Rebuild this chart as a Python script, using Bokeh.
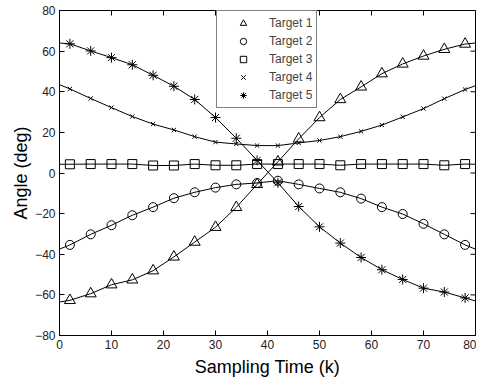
import math
from bokeh.plotting import figure
from bokeh.models import Range1d, Legend, LegendItem, FixedTicker
from bokeh.embed import file_html
from bokeh.resources import INLINE

# sampling instants: line endpoints 0 and 80, markers every 4 from 2 to 78
k = [0, 2, 6, 10, 14, 18, 22, 26, 30, 34, 38, 42, 46, 50, 54, 58, 62, 66, 70, 74, 78, 80]

target1 = [-63.5, -62.7, -59.4, -55.0, -52.6, -48.1, -41.3, -34.0, -26.7, -16.9, -5.6,
           5.5, 16.8, 27.3, 36.2, 42.4, 48.9, 53.7, 57.6, 60.9, 63.5, 64.0]
target2 = [-37.5, -35.4, -30.2, -25.7, -20.8, -16.8, -12.4, -9.5, -7.2, -5.6, -4.9,
           -3.8, -5.6, -7.6, -9.5, -12.6, -16.8, -20.2, -25.0, -30.2, -35.4, -37.5]
target3 = [4.3, 4.3, 4.4, 4.4, 4.4, 3.7, 3.7, 4.4, 3.8, 3.8, 4.4,
           4.4, 4.4, 4.4, 3.8, 4.4, 4.4, 4.4, 4.4, 3.8, 4.4, 4.3]
target4 = [43.5, 41.4, 36.7, 32.2, 27.8, 24.1, 21.2, 17.9, 15.2, 14.3, 13.5,
           13.5, 14.8, 16.0, 17.9, 20.5, 23.6, 27.6, 31.7, 36.6, 41.1, 43.0]
target5 = [64.0, 63.6, 60.1, 56.8, 53.3, 48.1, 42.7, 36.2, 27.3, 17.1, 6.2,
           -4.8, -16.5, -26.5, -34.5, -41.6, -47.6, -52.4, -56.7, -58.6, -61.5, -63.0]

labels = ["Target 1", "Target 2", "Target 3", "Target 4", "Target 5"]
markers = ["triangle", "circle", "square", "x", "asterisk"]
sizes = [11, 9, 9, 6, 10]
widths = [1, 1, 1, 1, 1.0]

x_ticks = [0, 10, 20, 30, 40, 50, 60, 70, 80]
y_ticks = [-80, -60, -40, -20, 0, 20, 40, 60, 80]
x_min, x_max = 0, 80
y_min, y_max = -80, 80

FONT = "Liberation Sans"

p = figure(width=476, height=379, output_backend="svg", toolbar_location=None,
           x_range=Range1d(x_min, x_max), y_range=Range1d(y_min, y_max),
           min_border_left=59, min_border_right=1, min_border_top=10, min_border_bottom=40)
p.grid.visible = False
p.outline_line_color = "black"
p.outline_line_width = 1
p.background_fill_color = "white"
p.border_fill_color = "white"

for ax in (p.xaxis[0], p.yaxis[0]):
    ax.major_tick_in = 5
    ax.major_tick_out = 0
    ax.minor_tick_line_color = None
    ax.axis_line_color = "black"
    ax.major_tick_line_color = "black"
    ax.major_label_text_font = FONT
    ax.major_label_text_font_size = "12px"
    ax.major_label_text_color = "#222222"
    ax.axis_label_text_font = FONT
    ax.axis_label_text_font_size = "18px"
    ax.axis_label_text_font_style = "normal"
    ax.axis_label_text_color = "black"

p.xaxis[0].ticker = FixedTicker(ticks=x_ticks)
p.yaxis[0].ticker = FixedTicker(ticks=y_ticks)
p.xaxis[0].axis_label = "Sampling Time (k)"
p.yaxis[0].axis_label = "Angle (deg)"
p.xaxis[0].major_label_standoff = 4
p.yaxis[0].major_label_standoff = 4
p.xaxis[0].axis_label_standoff = 5
p.yaxis[0].axis_label_standoff = 1

# mirrored inward ticks on the top and right edges of the box
p.ray(x=x_ticks, y=[y_max] * len(x_ticks), length=5, length_units="screen",
      angle=-math.pi / 2, line_color="black", line_width=1)
p.ray(x=[x_max] * len(y_ticks), y=y_ticks, length=5, length_units="screen",
      angle=math.pi, line_color="black", line_width=1)

series = [target1, target2, target3, target4, target5]
items = []
for vals, lab, mk, sz, lw in zip(series, labels, markers, sizes, widths):
    p.line(k, vals, line_color="black", line_width=1)
    r = p.scatter(k[1:-1], vals[1:-1], marker=mk, size=sz, fill_color=None,
                  line_color="black", line_width=lw)
    items.append(LegendItem(label=lab, renderers=[r]))

legend = Legend(items=items, location=(157, 227), margin=0,
                padding=4, spacing=2, glyph_width=44, glyph_height=16,
                label_height=16, label_standoff=4,
                label_text_font=FONT, label_text_font_size="12px",
                border_line_color="black", border_line_width=1,
                background_fill_color="white", background_fill_alpha=1)
p.add_layout(legend, "center")

open("out.html", "w").write(file_html(p, INLINE))
